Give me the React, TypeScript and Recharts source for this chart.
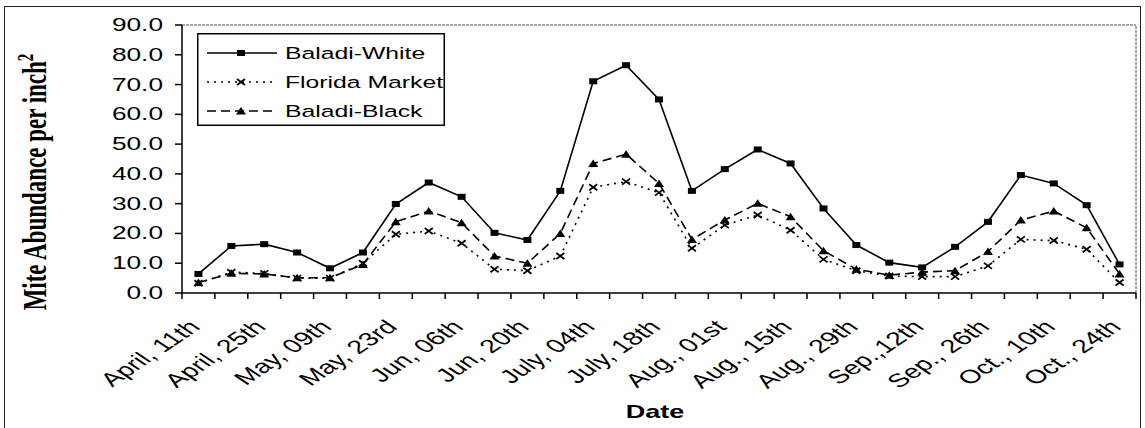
import { LineChart, Line, XAxis, YAxis, ReferenceLine } from "recharts";

// weekly samples, April 11th .. Oct. 24th (29 weeks); only every other week is labelled
const tickLabels = [
  "April, 11th", "April, 25th", "May, 09th", "May, 23rd", "Jun, 06th",
  "Jun, 20th", "July, 04th", "July, 18th", "Aug., 01st", "Aug., 15th",
  "Aug., 29th", "Sep.,12th", "Sep., 26th", "Oct., 10th", "Oct., 24th",
];

const whiteVals = [
  6.4, 15.8, 16.4, 13.6, 8.3, 13.6, 29.9, 37.1, 32.3, 20.2, 17.8, 34.3, 71.1, 76.5, 65.0,
  34.3, 41.6, 48.2, 43.5, 28.4, 16.1, 10.2, 8.6, 15.5, 23.9, 39.6, 36.8, 29.5, 9.6,
];
const floridaVals = [
  3.3, 7.0, 6.6, 5.0, 5.0, 10.0, 19.7, 20.8, 16.7, 8.0, 7.5, 12.4, 35.5, 37.4, 33.7,
  15.0, 22.8, 26.2, 21.1, 11.3, 7.5, 5.7, 5.5, 5.5, 9.1, 18.0, 17.6, 14.7, 3.5,
];
const blackVals = [
  3.5, 6.6, 6.4, 5.1, 5.1, 9.6, 23.9, 27.5, 23.6, 12.4, 10.0, 20.0, 43.5, 46.6, 36.8,
  18.0, 24.5, 30.1, 25.6, 14.2, 8.0, 6.0, 7.0, 7.5, 13.9, 24.5, 27.5, 21.9, 6.4,
];

const yTicks = [0, 10, 20, 30, 40, 50, 60, 70, 80, 90];

const data = whiteVals.map((v, i) => ({
  pos: i + 0.5,
  white: v,
  florida: floridaVals[i],
  black: blackVals[i],
}));

// boundaries between weeks get a tick mark, every other week centre gets a label
const xTicks: number[] = [];
for (let i = 0; i <= whiteVals.length; i++) xTicks.push(i);
tickLabels.forEach((_, k) => xTicks.push(k * 2 + 0.5));

// the scanned figure is stretched sideways
const SX = 1.5;
const ARIAL = "Arial, 'Liberation Sans', sans-serif";
const TIMES = "'Times New Roman', 'Liberation Serif', serif";

const SquareDot = (p: any) => (
  <rect key={p.index} x={p.cx - 4} y={p.cy - 3} width={8} height={6} fill="#000" />
);
const CrossDot = (p: any) => (
  <path
    key={p.index}
    d={`M${p.cx - 4},${p.cy - 3}L${p.cx + 4},${p.cy + 3}M${p.cx - 4},${p.cy + 3}L${p.cx + 4},${p.cy - 3}`}
    stroke="#000"
    strokeWidth={1.8}
    fill="none"
  />
);
const TriDot = (p: any) => (
  <path
    key={p.index}
    d={`M${p.cx},${p.cy - 4}L${p.cx + 5},${p.cy + 3.5}L${p.cx - 5},${p.cy + 3.5}Z`}
    fill="#000"
  />
);

const YTick = (p: any) => (
  <text
    transform={`translate(${p.x},${p.y}) scale(${SX},1)`}
    textAnchor="end"
    dy={6}
    fontFamily={ARIAL}
    fontSize={17.5}
    fill="#000"
  >
    {Number(p.payload.value).toFixed(1)}
  </text>
);

const XTick = (p: any) => {
  const v = p.payload.value;
  if (Number.isInteger(v)) {
    return <line x1={p.x} x2={p.x} y1={p.y} y2={p.y + 6} stroke="#000" strokeWidth={1.5} />;
  }
  const label = tickLabels[(v - 0.5) / 2];
  return (
    <text
      transform={`translate(${p.x + 3},${p.y + 35}) scale(${SX},1) rotate(-45)`}
      textAnchor="end"
      fontFamily={ARIAL}
      fontSize={19}
      fill="#000"
    >
      {label}
    </text>
  );
};

const YTitle = () => (
  <text
    transform={`translate(46,182) scale(${SX},1) rotate(-90)`}
    textAnchor="middle"
    fontFamily={TIMES}
    fontWeight="bold"
    fontSize={23}
    fill="#000"
  >
    Mite Abundance per inch
    <tspan dy={-9} fontSize={15}>2</tspan>
  </text>
);

const XTitle = () => (
  <text
    transform={`translate(655,418) scale(${SX},1)`}
    textAnchor="middle"
    fontFamily={ARIAL}
    fontWeight="bold"
    fontSize={18}
    fill="#000"
  >
    Date
  </text>
);

const legendRows = [
  { name: "Baladi-White", dash: undefined, Dot: SquareDot },
  { name: "Florida Market", dash: "2 5", Dot: CrossDot },
  { name: "Baladi-Black", dash: "9 5", Dot: TriDot },
];

const ChartLegend = () => (
  <svg width={248} height={93} style={{ position: "absolute", left: 197, top: 33, display: "block" }}>
    <rect x={0.75} y={0.75} width={246.5} height={91.5} fill="#fff" stroke="#000" strokeWidth={1.5} />
    {legendRows.map((r, i) => {
      const y = 20 + i * 29;
      return (
        <g key={r.name}>
          <line x1={10} x2={80} y1={y} y2={y} stroke="#000" strokeWidth={1.3} strokeDasharray={r.dash} />
          <r.Dot cx={44} cy={y} index={i} />
          <text
            transform={`translate(88,${y + 6}) scale(${SX},1)`}
            fontFamily={ARIAL}
            fontSize={16.5}
            fill="#000"
          >
            {r.name}
          </text>
        </g>
      );
    })}
  </svg>
);

export default function App() {
  return (
    <div style={{ position: "absolute", left: 0, top: 0, width: 1145, height: 428, background: "#fff", overflow: "hidden" }}>
      <div
        style={{
          position: "absolute",
          left: 4,
          top: 6,
          width: 1137,
          height: 440,
          border: "1.5px solid #222",
          boxSizing: "border-box",
        }}
      />
      <LineChart
        width={1145}
        height={428}
        data={data}
        margin={{ top: 25, right: 9, bottom: 0, left: 0 }}
        style={{ position: "absolute", left: 0, top: 0 }}
      >
        <XAxis
          dataKey="pos"
          type="number"
          domain={[0, 29]}
          ticks={xTicks}
          interval={0}
          tick={XTick}
          tickLine={false}
          tickSize={0}
          tickMargin={0}
          height={135}
          stroke="#000"
          strokeWidth={1.5}
          label={{ value: "Date", content: XTitle }}
        />
        <YAxis
          domain={[0, 90]}
          ticks={yTicks}
          interval={0}
          width={182}
          tick={YTick}
          tickSize={7}
          tickMargin={12}
          stroke="#000"
          strokeWidth={1.5}
          tickLine={{ stroke: "#000", strokeWidth: 1.5 }}
          label={{ value: "Mite Abundance per inch2", content: YTitle }}
        />
        <ReferenceLine y={90} stroke="#8a8a8a" strokeWidth={1.5} strokeDasharray="3 1" />
        <ReferenceLine x={29} stroke="#8a8a8a" strokeWidth={1.5} strokeDasharray="3 1" />
        <Line
          dataKey="white"
          name="Baladi-White"
          stroke="#000"
          strokeWidth={1.6}
          dot={SquareDot}
          isAnimationActive={false}
        />
        <Line
          dataKey="florida"
          name="Florida Market"
          stroke="#000"
          strokeWidth={1.6}
          strokeDasharray="2 5"
          dot={CrossDot}
          isAnimationActive={false}
        />
        <Line
          dataKey="black"
          name="Baladi-Black"
          stroke="#000"
          strokeWidth={1.6}
          strokeDasharray="9 5"
          dot={TriDot}
          isAnimationActive={false}
        />
      </LineChart>
      <ChartLegend />
    </div>
  );
}
